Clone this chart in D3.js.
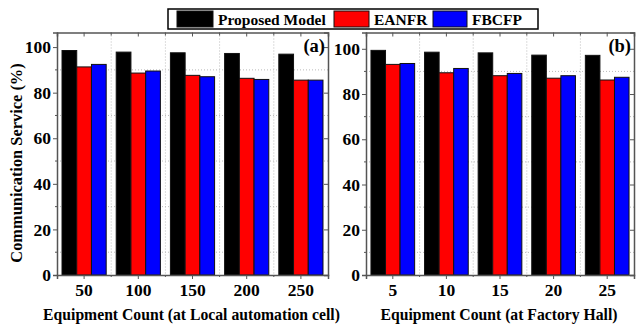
<!DOCTYPE html>
<html>
<head>
<meta charset="utf-8">
<script src="https://cdn.jsdelivr.net/npm/d3@7"></script>
<style>
  html, body { margin: 0; padding: 0; background: #fff; }
  svg { display: block; }
  svg text { font-family: "Liberation Serif", serif !important; font-weight: bold; fill: #000; }
</style>
</head>
<body>
<svg id="chart" width="637" height="325"></svg>
<script>
// Series names and colours
const seriesNames = ["Proposed Model", "EANFR", "FBCFP"];
const seriesColors = ["#000000", "#ff0000", "#0000ff"];

// Panel (a): local automation cell
const catsA = ["50", "100", "150", "200", "250"];
const proposedA = [98.5, 97.8, 97.5, 97.2, 96.9];
const eanfrA    = [91.3, 88.6, 87.6, 86.3, 85.5];
const fbcfpA    = [92.4, 89.5, 87.0, 85.8, 85.5];

// Panel (b): factory hall
const catsB = ["5", "10", "15", "20", "25"];
const proposedB = [99.3, 98.5, 98.2, 97.2, 97.1];
const eanfrB    = [93.1, 89.4, 88.1, 87.0, 86.2];
const fbcfpB    = [93.5, 91.3, 89.1, 88.1, 87.4];

const yTicks = [0, 20, 40, 60, 80, 100];
const yMinor = [10, 30, 50, 70, 90];

const svg = d3.select("#chart");

function panel(cfg) {
  const { x0, x1, top, bottom, yMax, cats, values, xTitle, tag } = cfg;
  const g = svg.append("g");

  const x = d3.scaleBand().domain(cats).range([x0, x1]).paddingInner(0.185).paddingOuter(0.0925);
  const xs = d3.scaleBand().domain(seriesNames).range([0, x.bandwidth()]);
  const y = d3.scaleLinear().domain([0, yMax]).range([bottom, top]);

  // boundaries between categories (vertical grid and minor ticks)
  const step = x.step();
  const bounds = d3.range(1, cats.length).map(i => x0 + i * step);

  // dotted grid
  g.selectAll(".hgrid").data(yMinor).join("line")
    .attr("x1", x0).attr("x2", x1)
    .attr("y1", d => y(d)).attr("y2", d => y(d))
    .attr("stroke", "#bbb").attr("stroke-width", 1).attr("stroke-dasharray", "1,2");
  g.selectAll(".vgrid").data(bounds).join("line")
    .attr("x1", d => d).attr("x2", d => d)
    .attr("y1", top).attr("y2", bottom)
    .attr("stroke", "#bbb").attr("stroke-width", 1).attr("stroke-dasharray", "1,2");

  // bars
  const rows = cats.map((c, i) => ({ cat: c, vals: values.map(s => s[i]) }));
  const grp = g.selectAll(".grp").data(rows).join("g")
    .attr("transform", d => `translate(${x(d.cat)},0)`);
  grp.selectAll("rect").data(d => d.vals.map((v, k) => ({ v, k }))).join("rect")
    .attr("x", d => xs(seriesNames[d.k]))
    .attr("width", xs.bandwidth())
    .attr("y", d => y(d.v))
    .attr("height", d => y(0) - y(d.v))
    .attr("fill", d => seriesColors[d.k])
    .attr("stroke", "#111").attr("stroke-width", 1);

  // axes
  const axisColor = "#555";
  const left = g.append("g").attr("transform", `translate(${x0},0)`)
    .call(d3.axisLeft(y).tickValues(yTicks).tickSize(4).tickPadding(2).tickFormat(d3.format("d")));
  left.selectAll("text").attr("font-size", 17.5);
  left.append("g").selectAll("line").data(yMinor).join("line")
    .attr("x1", 0).attr("x2", -2).attr("y1", d => y(d)).attr("y2", d => y(d)).attr("stroke", axisColor);

  const bottomAx = g.append("g").attr("transform", `translate(0,${bottom})`)
    .call(d3.axisBottom(x).tickSize(4).tickPadding(5));
  bottomAx.selectAll("text").attr("font-size", 17.5);
  bottomAx.append("g").selectAll("line").data(bounds).join("line")
    .attr("x1", d => d).attr("x2", d => d).attr("y1", 0).attr("y2", 2).attr("stroke", axisColor);

  // mirrored top/right axes
  const topAx = g.append("g").attr("transform", `translate(0,${top})`)
    .call(d3.axisBottom(x).tickSize(4).tickFormat(""));
  topAx.append("g").selectAll("line").data(bounds).join("line")
    .attr("x1", d => d).attr("x2", d => d).attr("y1", 0).attr("y2", 3).attr("stroke", axisColor);
  const rightAx = g.append("g").attr("transform", `translate(${x1},0)`)
    .call(d3.axisRight(y).tickValues(yTicks).tickSize(-4).tickFormat(""));

  [left, bottomAx, topAx, rightAx].forEach(a => {
    a.selectAll(".domain").attr("stroke", axisColor).attr("stroke-width", 1.5);
    a.selectAll(".tick line").attr("stroke", axisColor);
  });

  // panel tag
  g.append("text").attr("x", x1 - 3).attr("y", top + 19.5)
    .attr("text-anchor", "end").attr("font-size", 18.5).text(tag);

  // x title
  g.append("text").attr("x", (x0 + x1) / 2 - 1).attr("y", 320)
    .attr("text-anchor", "middle").attr("font-size", 15.7).text(xTitle);
}

panel({ x0: 57, x1: 328, top: 32.5, bottom: 275, yMax: 106.4, cats: catsA,
        values: [proposedA, eanfrA, fbcfpA],
        xTitle: "Equipment Count (at Local automation cell)", tag: "(a)" });
panel({ x0: 366, x1: 634, top: 32.5, bottom: 275, yMax: 107.2, cats: catsB,
        values: [proposedB, eanfrB, fbcfpB],
        xTitle: "Equipment Count (at Factory Hall)", tag: "(b)" });

// y title
svg.append("text")
  .attr("transform", "translate(22,163) rotate(-90)")
  .attr("text-anchor", "middle").attr("font-size", 16.4)
  .text("Communication Service (%)");

// legend
const leg = svg.append("g");
leg.append("rect").attr("x", 168).attr("y", 9).attr("width", 370).attr("height", 20)
  .attr("fill", "#fff").attr("stroke", "#000").attr("stroke-width", 1.5);
const legX = [177, 334, 433];
const legW = [36, 35, 34];
seriesNames.forEach((n, i) => {
  leg.append("rect").attr("x", legX[i]).attr("y", 11).attr("width", legW[i]).attr("height", 16)
    .attr("fill", seriesColors[i]).attr("stroke", "#111").attr("stroke-width", 1);
  leg.append("text").attr("x", legX[i] + legW[i] + 5).attr("y", 25)
    .attr("font-size", 15.5).text(n);
});
</script>
</body>
</html>
